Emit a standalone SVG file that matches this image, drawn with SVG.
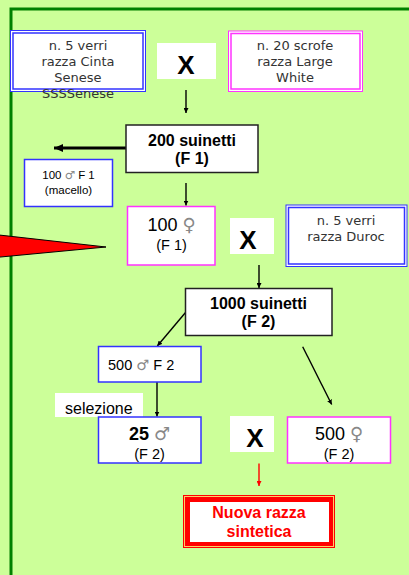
<svg xmlns="http://www.w3.org/2000/svg" width="409" height="575" viewBox="0 0 409 575">
<style>
.v{font-family:"DejaVu Sans",Verdana,sans-serif;font-size:13px;fill:#333;text-anchor:middle}
.a{font-family:"Liberation Sans",Arial,sans-serif;fill:#000}
.c{text-anchor:middle}
.b{font-weight:bold}
.g{fill:#888;font-family:"DejaVu Sans","Liberation Sans",sans-serif;font-weight:normal}
.bl{fill:#fff;stroke:#3333ff;stroke-width:1.5}
.pk{fill:#fff;stroke:#ff33ff;stroke-width:1.5}
.bk{fill:#fff;stroke:#222;stroke-width:1.5}
.ln{stroke:#000;stroke-width:1.4;fill:none}
.xw{fill:#fff}
.xt{font-family:"Liberation Sans",Arial,sans-serif;font-weight:bold;font-size:26px;text-anchor:middle;fill:#000}
</style>
<defs>
<marker id="ah" viewBox="0 0 10 10" refX="10" refY="5" markerWidth="5" markerHeight="5" markerUnits="userSpaceOnUse" orient="auto"><path d="M0,0 L10,5 L0,10 z" fill="#000"/></marker>
<marker id="ahr" viewBox="0 0 10 10" refX="10" refY="5" markerWidth="5" markerHeight="5" markerUnits="userSpaceOnUse" orient="auto"><path d="M0,0 L10,5 L0,10 z" fill="#f00"/></marker>
<marker id="ahb" viewBox="0 0 10 10" refX="10" refY="5" markerWidth="9" markerHeight="8" markerUnits="userSpaceOnUse" orient="auto" preserveAspectRatio="none"><path d="M0,0 L10,5 L0,10 z" fill="#000"/></marker>
</defs>
<rect x="0" y="0" width="409" height="575" fill="#ccff99"/>
<rect x="11" y="9" width="600" height="700" fill="none" stroke="#008000" stroke-width="3"/>

<g id="connectors">
<line class="ln" x1="186" y1="90" x2="186" y2="113" marker-end="url(#ah)"/>
<line x1="126" y1="148" x2="54" y2="148" stroke="#000" stroke-width="3" marker-end="url(#ahb)"/>
<line class="ln" x1="186" y1="183" x2="186" y2="205.5" marker-end="url(#ah)"/>
<line class="ln" x1="259" y1="265" x2="259" y2="288" marker-end="url(#ah)"/>
<line class="ln" x1="185.3" y1="312.7" x2="157.3" y2="346" marker-end="url(#ah)"/>
<line class="ln" x1="302.7" y1="346.7" x2="331.7" y2="404.5" marker-end="url(#ah)"/>
<line class="ln" x1="157" y1="382" x2="157" y2="416.5" marker-end="url(#ah)"/>
<line x1="259" y1="463.5" x2="259" y2="486" stroke="#f00" stroke-width="1.4" marker-end="url(#ahr)"/>
</g>

<g id="pointer">
<polygon points="-10,234 106,247 -10,258" fill="#f00" stroke="#000" stroke-width="1"/>
</g>

<g id="n-cinta">
<rect x="10.5" y="30.5" width="135" height="61" fill="#fff" stroke="#3333ff" stroke-width="1"/>
<rect x="13" y="33" width="130" height="56" fill="none" stroke="#3333ff" stroke-width="1.5"/>
<text class="v" x="78" y="50">n. 5 verri</text>
<text class="v" x="78" y="66">razza Cinta</text>
<text class="v" x="78" y="82">Senese</text>
<text class="v" x="78" y="98">SSSSenese</text>
</g>

<g id="x1">
<rect class="xw" x="157" y="43" width="59" height="36"/>
<text class="xt" x="186" y="74">X</text>
</g>

<g id="n-large-white">
<rect x="228.5" y="31" width="134" height="60.5" fill="#fff" stroke="#ff33ff" stroke-width="1"/>
<rect x="231" y="33.5" width="129" height="55.5" fill="none" stroke="#ff33ff" stroke-width="1.5"/>
<text class="v" x="295" y="50">n. 20 scrofe</text>
<text class="v" x="295" y="66">razza Large</text>
<text class="v" x="295" y="82">White</text>
</g>

<g id="n-f1">
<rect class="bk" x="126" y="125" width="132" height="47.5"/>
<text class="a b c" x="192" y="146" font-size="16">200 suinetti</text>
<text class="a b c" x="192" y="164" font-size="16">(F 1)</text>
</g>

<g id="n-macello">
<rect class="bl" x="24.5" y="159.5" width="88" height="47"/>
<text class="a c" x="68.5" y="179" font-size="11.5">100 <tspan class="g">♂</tspan> F 1</text>
<text class="a c" x="68.5" y="194" font-size="11.5">(macello)</text>
</g>

<g id="n-100f">
<rect class="pk" x="127.5" y="206.5" width="87.5" height="58.5"/>
<text class="a c" x="171.5" y="231" font-size="18">100 <tspan class="g">♀</tspan></text>
<text class="a c" x="171.5" y="250" font-size="14.5">(F 1)</text>
</g>

<g id="x2">
<rect class="xw" x="230" y="218" width="44" height="36"/>
<text class="xt" x="248" y="249">X</text>
</g>

<g id="n-duroc">
<rect x="286" y="205" width="121" height="61.5" fill="#fff" stroke="#3333ff" stroke-width="1"/>
<rect x="288.5" y="207.5" width="116" height="56.5" fill="none" stroke="#3333ff" stroke-width="1.5"/>
<text class="v" x="346" y="225">n. 5 verri</text>
<text class="v" x="346" y="241">razza Duroc</text>
</g>

<g id="n-f2">
<rect class="bk" x="185.5" y="288.5" width="146.5" height="47"/>
<text class="a b c" x="258.5" y="309" font-size="16">1000 suinetti</text>
<text class="a b c" x="258.5" y="327" font-size="16">(F 2)</text>
</g>

<g id="n-500m">
<rect class="bl" x="98.5" y="346.5" width="102.5" height="35.5"/>
<text class="a" x="108" y="370" font-size="14.5">500 <tspan class="g">♂</tspan> F 2</text>
</g>

<g id="n-selezione">
<rect class="xw" x="55" y="393" width="88" height="24"/>
<text class="a" x="65" y="414" font-size="16">selezione</text>
</g>

<g id="n-25m">
<rect class="bl" x="98.5" y="417" width="102.5" height="46"/>
<text class="a c" x="149.5" y="440" font-size="18"><tspan font-weight="bold">25</tspan> <tspan class="g">♂</tspan></text>
<text class="a c" x="149.5" y="459" font-size="14.5">(F 2)</text>
</g>

<g id="x3">
<rect class="xw" x="230" y="416" width="44" height="36"/>
<text class="xt" x="255" y="447">X</text>
</g>

<g id="n-500f">
<rect class="pk" x="287.5" y="417" width="103" height="46"/>
<text class="a c" x="339" y="440" font-size="18">500 <tspan class="g">♀</tspan></text>
<text class="a c" x="339" y="459" font-size="14.5">(F 2)</text>
</g>

<g id="n-nuova">
<rect x="183" y="495" width="152" height="53" fill="#f00"/>
<rect x="184.5" y="496.5" width="149" height="50" fill="none" stroke="#ffcc66" stroke-width="1"/>
<rect x="190" y="502" width="139" height="40" fill="#fff"/>
<text class="a b c" x="259" y="518" font-size="16" fill="#f00" style="fill:#f00">Nuova razza</text>
<text class="a b c" x="259" y="537" font-size="16" style="fill:#f00">sintetica</text>
</g>
</svg>
